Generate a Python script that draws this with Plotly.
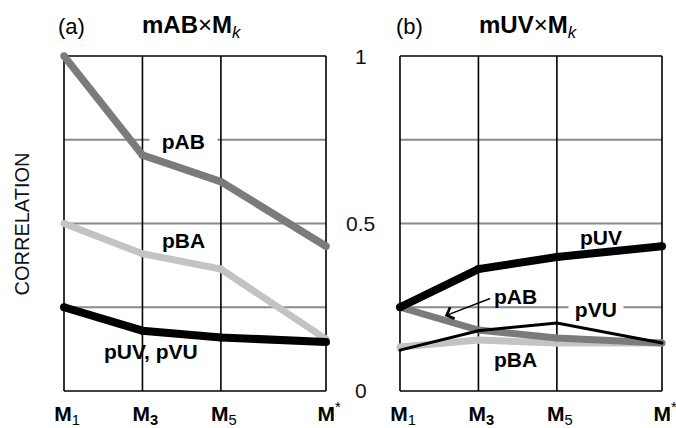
import plotly.graph_objects as go

# ---- data ----
MODELS = ["M1", "M3", "M5", "M*"]
X_POS = [0, 1, 2, 3.34]          # horizontal placement of the four models
TICK_TEXT = ["<b>M</b><sub>1</sub>", "<b>M<sub>3</sub></b>",
             "<b>M</b><sub>5</sub>", "<b>M</b><sup>*</sup>"]

# panel (a): mAB x Mk
A_pAB = [1.0, 0.704, 0.625, 0.432]
A_pBA = [0.50, 0.41, 0.364, 0.155]
A_pUV_pVU = [0.25, 0.18, 0.16, 0.146]

# panel (b): mUV x Mk
B_pUV = [0.25, 0.364, 0.40, 0.432]
B_pAB = [0.25, 0.182, 0.158, 0.143]
B_pBA = [0.131, 0.152, 0.143, 0.143]
B_pVU = [0.122, 0.180, 0.203, 0.143]

Y_TICKS = [0, 0.5, 1]
Y_TICK_TEXT = ["0", "0.5", "1"]
GRID_Y = [0.25, 0.5, 0.75]

DARK = "#7b7b7b"
LIGHT = "#c3c3c3"
BLACK = "#000000"
FONT = "Liberation Sans, Arial, sans-serif"

fig = go.Figure()


def add_line(vals, color, width, xa, ya):
    fig.add_trace(go.Scatter(
        x=X_POS, y=vals, mode="lines+markers",
        line=dict(color=color, width=width),
        marker=dict(color=color, size=width, line=dict(width=0)),
        xaxis=xa, yaxis=ya, showlegend=False, hoverinfo="skip"))


# panel a
add_line(A_pBA, LIGHT, 7, "x", "y")
add_line(A_pAB, DARK, 7.5, "x", "y")
add_line(A_pUV_pVU, BLACK, 8, "x", "y")
# panel b
add_line(B_pBA, LIGHT, 7, "x2", "y2")
add_line(B_pAB, DARK, 7, "x2", "y2")
add_line(B_pUV, BLACK, 8, "x2", "y2")
add_line(B_pVU, BLACK, 3, "x2", "y2")

# frame / grid shapes
shapes = []
for xr, yr in (("x", "y"), ("x2", "y2")):
    for gy in GRID_Y:
        shapes.append(dict(type="line", xref=xr, yref=yr, x0=X_POS[0], x1=X_POS[-1],
                           y0=gy, y1=gy, line=dict(color="#8a8a8a", width=2), layer="below"))
    for by in (0, 1):
        shapes.append(dict(type="line", xref=xr, yref=yr, x0=X_POS[0], x1=X_POS[-1],
                           y0=by, y1=by, line=dict(color=BLACK, width=1.6), layer="below"))
    for xv in X_POS:
        shapes.append(dict(type="line", xref=xr, yref=yr, x0=xv, x1=xv,
                           y0=0, y1=1, line=dict(color=BLACK, width=1.6), layer="below"))

XR = [-0.102, 3.442]
YR = [-0.0239, 1.0239]

axis_x = dict(range=XR, tickmode="array", tickvals=X_POS, ticktext=TICK_TEXT,
              showgrid=False, zeroline=False, showline=False, ticks="",
              tickfont=dict(family=FONT, size=21, color=BLACK),
              ticklabelshift=3, ticklabelstandoff=0, ticklabeloverflow="allow",
              automargin=False, fixedrange=True)
axis_y = dict(range=YR, showgrid=False, zeroline=False, showline=False,
              showticklabels=False, ticks="", automargin=False, fixedrange=True)

ann = []
lab_font = dict(family=FONT, size=21, color=BLACK)


def label(text, x, y, xr, yr, bg=None):
    d = dict(text=text, x=x, y=y, xref=xr, yref=yr, showarrow=False,
             font=lab_font, xanchor="center", yanchor="middle", borderpad=0)
    if bg:
        d["bgcolor"] = bg
    ann.append(d)


# titles
TITLE_Y = 1.06
ann.append(dict(text="(a)", x=0.096, y=TITLE_Y, xref="x", yref="paper", showarrow=False,
                font=dict(family=FONT, size=22, color=BLACK), yanchor="middle"))
ann.append(dict(text="<b>mAB</b>×<b>M</b><sub><i>k</i></sub>", x=1.632, y=TITLE_Y,
                xref="x", yref="paper", showarrow=False,
                font=dict(family=FONT, size=24, color=BLACK), yanchor="middle"))
ann.append(dict(text="(b)", x=0.12, y=TITLE_Y, xref="x2", yref="paper", showarrow=False,
                font=dict(family=FONT, size=22, color=BLACK), yanchor="middle"))
ann.append(dict(text="<b>mUV</b>×<b>M</b><sub><i>k</i></sub>", x=1.638, y=TITLE_Y,
                xref="x2", yref="paper", showarrow=False,
                font=dict(family=FONT, size=24, color=BLACK), yanchor="middle"))

# line labels panel a
label("&nbsp;&nbsp;<b>pAB</b>&nbsp;&nbsp;", 1.517, 0.744, "x", "y", bg="white")
label("<b>pBA</b>", 1.517, 0.449, "x", "y")
label("<b>pUV, pVU</b>", 1.115, 0.117, "x", "y")
# line labels panel b
label("<b>pUV</b>", 2.565, 0.459, "x2", "y2")
label("<b>pAB</b>", 1.467, 0.282, "x2", "y2")
label("&nbsp;<b>pVU</b>&nbsp;", 2.502, 0.243, "x2", "y2", bg="white")
label("<b>pBA</b>", 1.473, 0.093, "x2", "y2")
# arrow to pAB in panel b
ann.append(dict(text="", x=0.571, y=0.224, ax=1.168, ay=0.278, xref="x2", yref="y2",
                axref="x2", ayref="y2", showarrow=True, arrowhead=4, arrowsize=1.6,
                arrowwidth=1.5, arrowcolor=BLACK))

# y-axis title and shared tick labels
ann.append(dict(text="CORRELATION", x=-0.0554, y=0.5, xref="paper", yref="y",
                textangle=-90, showarrow=False, xanchor="center", yanchor="middle",
                font=dict(family=FONT, size=20, color="#111111")))
for v, t in zip(Y_TICKS, Y_TICK_TEXT):
    ann.append(dict(text=t, x=0.4967, y=v, xref="paper", yref="y2", showarrow=False,
                    xanchor="center", yanchor="middle",
                    font=dict(family=FONT, size=21, color="#111111")))

fig.update_layout(
    width=676, height=428,
    margin=dict(l=56, r=6, t=48, b=29, autoexpand=False),
    paper_bgcolor="white", plot_bgcolor="white",
    xaxis=dict(domain=[0, 0.4528], anchor="y", **axis_x),
    xaxis2=dict(domain=[0.5472, 1], anchor="y2", **axis_x),
    yaxis=dict(domain=[0, 1], anchor="x", **axis_y),
    yaxis2=dict(domain=[0, 1], anchor="x2", **axis_y),
    shapes=shapes, annotations=ann,
)

fig.write_html("out.html", config={"displayModeBar": False},
               post_script="document.body.style.margin='0';document.body.style.overflow='hidden';")
